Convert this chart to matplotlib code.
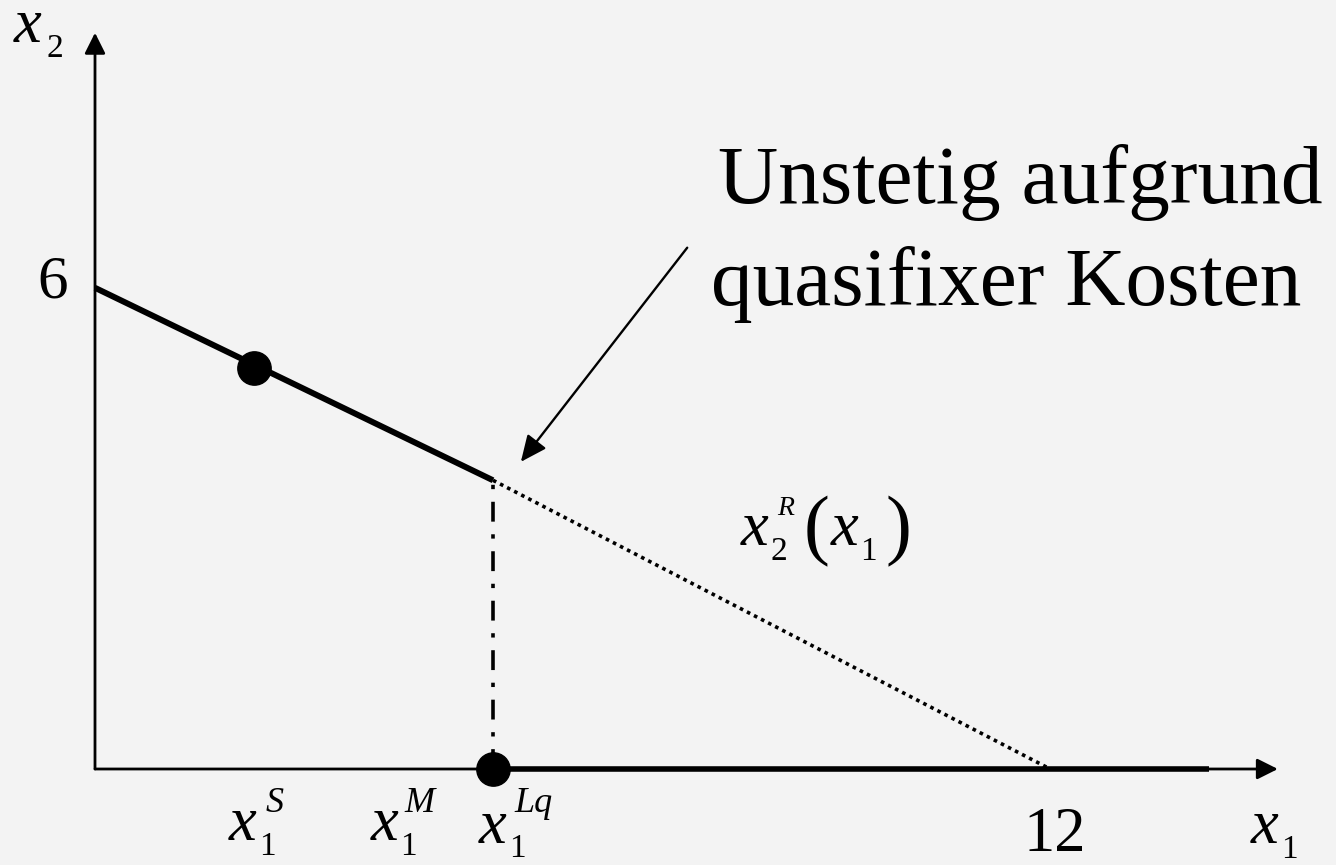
import matplotlib
matplotlib.use("Agg")
import matplotlib.pyplot as plt

# Reaktionsfunktion x2^R(x1)
line_x = [0, 5]
line_y = [6, 3.6]
dot_x = [5, 12]
dot_y = [3.6, 0]
base_x = [5, 14]          # Teil auf der x1-Achse
points_x = [2, 5]         # x1^S und x1^Lq
points_y = [5, 0]

W, H = 1336, 865
bg = '#f3f3f3'
serif = 'Liberation Serif'

fig = plt.figure(figsize=(W / 100, H / 100), dpi=100, facecolor=bg)
ax = fig.add_axes([0, 0, 1, 1])
ax.set_facecolor(bg)
ax.axis('off')
# x=0 bei Pixel 95, y=0 bei Pixel 769 (von oben)
sx, sy = 79.6, 80.2
ax.set_xlim(-95 / sx, (W - 95) / sx)
ax.set_ylim(-(H - 769) / sy, 769 / sy)


def px(x, y):
    return x / W, 1 - y / H


def txt(x, y, s, size, italic=False, **kw):
    fig.text(*px(x, y), s, fontsize=size, family=serif,
             style='italic' if italic else 'normal',
             ha=kw.pop('ha', 'left'), va=kw.pop('va', 'baseline'), **kw)


# Achsen mit Pfeilen
arrow = dict(arrowstyle='-|>,head_length=0.9,head_width=0.45', color='black',
             lw=2.0, shrinkA=0, shrinkB=0, mutation_scale=14)
ax.annotate('', xy=(14.86, 0), xytext=(0, 0), arrowprops=arrow)
ax.annotate('', xy=(0, 9.18), xytext=(0, 0), arrowprops=arrow)

# Linien
ax.plot(line_x, line_y, color='black', lw=4.3, solid_capstyle='butt', zorder=3)
ax.plot(dot_x, dot_y, color='black', lw=2.6, linestyle=(0, (1, 1.2)),
        dash_capstyle='butt', zorder=3)
ax.plot([line_x[1], line_x[1]], [0, line_y[1]], color='black', lw=2.6,
        linestyle=(0, (5.5, 3.5, 1.2, 3.5)), dash_capstyle='butt', zorder=3)
ax.plot(base_x, [0, 0], color='black', lw=4.0, solid_capstyle='butt', zorder=3)
ax.plot(points_x, points_y, 'o', color='black', markersize=24, zorder=4)

# Pfeil zur Unstetigkeit
ax.annotate('', xy=(5.35, 3.83), xytext=(7.44, 6.50),
            arrowprops=dict(arrowstyle='-|>,head_length=1.0,head_width=0.45',
                            color='black', lw=1.7, shrinkA=0, shrinkB=0,
                            mutation_scale=16))

# Text
txt(718, 203, 'Unstetig aufgrund', 60)
txt(711, 305, 'quasifixer Kosten', 60)

txt(53, 298, '6', 44, ha='center')
txt(1055, 851, '12', 45, ha='center')

# Achsenbeschriftungen
xs = 45
txt(14, 42, 'x', xs, italic=True)
txt(46, 57, '2', 24)
txt(1251, 843, 'x', xs, italic=True)
txt(1281, 858, '1', 24)

# x1^S, x1^M, x1^Lq
txt(229, 840, 'x', xs, italic=True)
txt(259, 855, '1', 24)
txt(266, 812, 'S', 26, italic=True)

txt(371, 840, 'x', xs, italic=True)
txt(400, 855, '1', 24)
txt(404, 812, 'M', 26, italic=True)

txt(479, 843, 'x', xs, italic=True)
txt(509, 857, '1', 24)
txt(514, 812, 'Lq', 26, italic=True)

# x2^R(x1)
txt(741, 545, 'x', xs, italic=True)
txt(770, 560, '2', 24)
txt(777, 515, 'R', 20, italic=True)
txt(804, 550, '(', 56)
txt(831, 545, 'x', xs, italic=True)
txt(860, 560, '1', 24)
txt(885, 550, ')', 56)

fig.savefig('out.png', dpi=100, facecolor=bg)
